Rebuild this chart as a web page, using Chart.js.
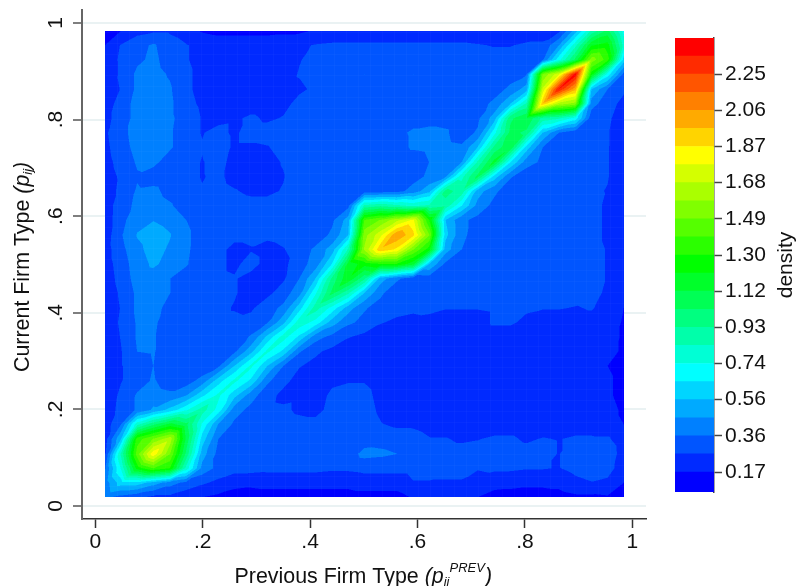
<!DOCTYPE html>
<html>
<head>
<meta charset="utf-8">
<script src="https://cdn.jsdelivr.net/npm/chart.js@4/dist/chart.umd.min.js"></script>
<style>
  html, body { margin: 0; padding: 0; background: #fff; }
  #wrap { position: relative; width: 796px; height: 586px; }
  canvas { position: absolute; left: 0; top: 0; }
</style>
</head>
<body>
<div id="wrap">
  <canvas id="main" width="796" height="586"></canvas>
  <canvas id="bar" width="796" height="586"></canvas>
</div>
<script>
const xTicks = [0, 0.2, 0.4, 0.6, 0.8, 1];
const yTicks = [0, 0.2, 0.4, 0.6, 0.8, 1];
const tickNames = { 0: '0', 0.2: '.2', 0.4: '.4', 0.6: '.6', 0.8: '.8', 1: '1' };

const gridX = [.018,.048,.078,.108,.139,.169,.199,.229,.259,.290,.320,.350,.380,.410,.441,.471,.501,.531,.561,.592,.622,.652,.682,.712,.743,.773,.803,.833,.863,.894,.924,.954,.984];
const gridY = [.984,.954,.924,.894,.863,.833,.803,.773,.743,.712,.682,.652,.622,.592,.561,.531,.501,.471,.441,.410,.380,.350,.320,.290,.259,.229,.199,.169,.139,.108,.078,.048,.018];

// density x 100, one row per gridY value
const density = [
  [15,17,23,25,25,22,16,14,14,14,14,15,15,18,19,20,20,20,20,20,20,20,20,20,20,20,20,22,24,50,85,105,70],
  [17,27,33,37,31,27,24,23,23,23,23,23,25,27,28,28,28,28,28,28,28,28,28,27,26,26,28,28,45,80,120,125,80],
  [21,28,34,38,32,27,24,23,22,22,22,23,26,29,30,30,30,30,30,30,30,30,30,30,30,30,31,35,70,105,155,135,60],
  [20,28,38,39,35,28,24,23,22,22,22,23,27,30,31,31,36,31,31,36,31,31,31,31,31,32,35,150,175,240,125,70,33],
  [21,27,38,40,37,28,24,22,22,22,22,24,25,28,30,31,31,31,31,31,31,31,31,31,32,38,50,170,235,200,55,36,28],
  [22,30,40,41,38,29,25,23,22,22,22,24,29,31,31,31,31,31,31,31,31,31,31,32,38,55,85,195,165,155,40,30,24],
  [24,30,40,42,38,31,26,24,25,28,25,27,31,31,31,31,31,31,33,33,33,33,32,34,50,100,110,90,85,70,30,28,22],
  [25,33,40,42,37,31,26,29,25,30,30,31,31,31,31,31,31,31,34,37,38,37,32,37,70,105,100,55,36,30,28,27,22],
  [24,32,39,41,37,31,27,31,25,25,26,29,31,31,31,31,31,31,33,37,38,38,37,55,95,110,60,36,30,29,28,27,21],
  [23,30,37,38,32,30,26,29,24,23,24,27,31,31,31,31,31,31,31,31,36,38,45,85,115,65,40,34,30,29,28,27,21],
  [22,28,35,32,31,29,26,28,24,23,24,26,31,31,31,31,31,31,31,32,38,44,80,105,60,37,30,29,29,29,28,27,20],
  [21,29,37,38,33,30,27,29,27,25,25,27,31,31,31,31,31,31,32,40,52,95,90,50,38,30,29,29,29,29,28,26,19],
  [21,32,38,40,37,31,30,30,30,29,29,30,31,31,32,33,85,90,85,80,85,90,65,42,33,30,29,29,29,29,29,25,18],
  [21,33,42,45,42,36,31,30,30,30,30,31,31,31,34,50,140,150,165,180,130,55,38,33,31,30,30,30,30,30,29,25,19],
  [21,35,46,50,46,38,31,29,28,28,28,29,31,30,38,55,155,175,205,190,150,58,38,32,31,31,30,30,30,30,29,25,20],
  [22,33,43,49,44,38,30,28,25,26,24,26,30,38,50,85,160,195,185,150,125,50,36,32,31,31,30,30,30,30,29,26,20],
  [22,31,41,47,42,37,30,28,25,29,24,24,32,40,65,115,125,130,130,115,55,34,31,31,31,31,30,30,30,30,29,26,20],
  [21,30,40,41,36,31,29,28,27,24,24,25,36,55,95,120,95,50,38,30,31,31,31,31,31,31,31,31,31,31,29,26,20],
  [20,28,38,40,36,31,29,28,27,24,24,31,42,72,105,85,55,38,29,30,30,30,30,30,30,30,30,30,30,30,29,25,19],
  [20,27,38,39,33,31,28,28,26,25,32,38,60,88,70,50,37,32,29,28,29,27,27,27,28,28,28,27,27,26,27,24,17],
  [20,28,37,38,30,29,28,28,28,30,35,52,80,70,50,38,33,27,25,24,23,22,22,22,28,28,24,22,22,24,24,22,16],
  [19,27,37,37,30,29,28,28,30,37,57,78,62,40,33,27,24,22,21,21,21,21,21,21,21,21,21,21,21,22,22,20,16],
  [18,26,36,37,28,27,27,28,34,52,76,62,37,28,24,21,20,20,20,20,20,20,20,20,20,20,20,20,20,20,20,19,16],
  [18,26,30,36,28,27,28,34,55,76,55,36,27,24,21,19,19,19,19,19,19,19,19,19,19,19,19,19,19,19,19,17,15],
  [18,26,32,37,31,31,40,60,76,62,38,29,23,24,25,26,26,23,20,19,19,19,19,19,19,19,19,19,19,19,19,18,15],
  [18,29,37,40,38,45,62,76,58,40,30,24,25,23,28,29,29,24,20,19,19,19,19,19,19,19,19,19,19,19,19,18,15],
  [20,30,37,47,58,72,88,70,40,33,29,28,25,24,29,30,30,25,21,20,20,20,20,20,20,20,20,20,20,20,20,19,16],
  [21,36,80,100,115,105,72,45,34,30,30,30,29,29,30,30,31,27,25,25,23,21,21,21,21,21,21,21,21,21,21,19,17],
  [22,55,135,150,165,110,60,36,30,31,31,31,31,31,31,31,31,32,31,30,27,27,25,26,28,28,25,27,26,28,28,28,20],
  [25,85,145,185,150,100,50,33,30,31,31,31,31,31,31,31,39,38,36,31,31,30,30,30,31,31,30,30,26,33,35,34,21],
  [35,75,125,140,130,80,42,33,30,30,29,29,29,29,28,28,29,29,29,29,29,28,28,27,28,28,27,27,26,29,31,31,20],
  [40,60,60,50,40,33,28,24,20,19,20,20,20,20,20,20,22,22,22,26,26,26,26,23,21,20,19,19,20,24,26,24,17],
  [38,32,28,24,24,20,17,15,13,13,13,13,13,13,13,13,13,13,13,18,18,18,18,17,13,13,13,13,13,15,15,16,15]
];

// contour levels, bottom of the colour bar to the top
const bandEdges = [.0655,.17,.2645,.359,.4535,.548,.6425,.737,.8315,.926,1.0205,1.115,1.2095,1.304,1.3985,1.493,1.5875,1.682,1.7765,1.871,1.9655,2.06,2.1545,2.249,2.3435,2.438];
const bandHues = [240,230,220,210,200,190,180,170,160,150,140,130,120,110,100,90,80,70,60,50,40,30,20,10,0];
const barTicks = [.17,.359,.548,.737,.926,1.115,1.304,1.493,1.682,1.871,2.06,2.249];
const barLabels = ['0.17','0.36','0.56','0.74','0.93','1.12','1.30','1.49','1.68','1.87','2.06','2.25'];

const FONT = '"Liberation Sans", Arial, sans-serif';
const INK = '#111';
const TEXT_SIZE = 21;
const TITLE_SIZE = 21.4;
const MESH_STEP = 0.0224;

function hslRgb(h) {
  const f = n => {
    const k = (n + h / 30) % 12;
    return Math.round(255 * (0.5 - 0.5 * Math.max(-1, Math.min(k - 3, 9 - k, 1))));
  };
  return [f(0), f(8), f(4)];
}
const bandRgb = bandHues.map(hslRgb);

function bandOf(v) {
  for (let b = bandEdges.length - 2; b > 0; b--) {
    if (v >= bandEdges[b]) return b;
  }
  return 0;
}

// linear on the two triangles of a cell, split along the diagonal
function sampleDensity(x, y) {
  let i = 0;
  while (i < gridX.length - 2 && x > gridX[i + 1]) i++;
  let r = 0;
  while (r < gridY.length - 2 && y < gridY[r + 1]) r++;
  const u = (x - gridX[i]) / (gridX[i + 1] - gridX[i]);
  const v = (y - gridY[r + 1]) / (gridY[r] - gridY[r + 1]);
  const v00 = density[r + 1][i], v10 = density[r + 1][i + 1];
  const v01 = density[r][i], v11 = density[r][i + 1];
  const z = u > v
    ? v00 + u * (v10 - v00) + v * (v11 - v10)
    : v00 + v * (v01 - v00) + u * (v11 - v01);
  return z / 100;
}

const contourPlugin = {
  id: 'contour',
  beforeDatasetsDraw(chart) {
    const sx = chart.scales.x, sy = chart.scales.y;
    const left = Math.round(sx.getPixelForValue(gridX[0]));
    const right = Math.round(sx.getPixelForValue(gridX[gridX.length - 1]));
    const top = Math.round(sy.getPixelForValue(gridY[0]));
    const bottom = Math.round(sy.getPixelForValue(gridY[gridY.length - 1]));
    const ss = 2;
    const w = (right - left) * ss, h = (bottom - top) * ss;
    const off = document.createElement('canvas');
    off.width = w;
    off.height = h;
    const octx = off.getContext('2d');
    const img = octx.createImageData(w, h);
    for (let py = 0; py < h; py++) {
      const y = sy.getValueForPixel(top + (py + 0.5) / ss);
      for (let px = 0; px < w; px++) {
        const x = sx.getValueForPixel(left + (px + 0.5) / ss);
        const c = bandRgb[bandOf(sampleDensity(x, y))];
        const k = (py * w + px) * 4;
        img.data[k] = c[0];
        img.data[k + 1] = c[1];
        img.data[k + 2] = c[2];
        img.data[k + 3] = 255;
      }
    }
    octx.putImageData(img, 0, 0);
    const ctx = chart.ctx;
    ctx.drawImage(off, left, top, right - left, bottom - top);

    // faint seams of the contour mesh
    ctx.save();
    ctx.strokeStyle = 'rgba(255,255,255,0.025)';
    ctx.lineWidth = 1;
    ctx.beginPath();
    for (let v = gridX[0] + MESH_STEP; v < gridX[gridX.length - 1]; v += MESH_STEP) {
      const px = Math.round(sx.getPixelForValue(v)) + 0.5;
      ctx.moveTo(px, top);
      ctx.lineTo(px, bottom);
      const py = Math.round(sy.getPixelForValue(v)) + 0.5;
      ctx.moveTo(left, py);
      ctx.lineTo(right, py);
    }
    ctx.stroke();
    ctx.restore();
  }
};

// runs: [text, size, italic, baseline shift]
function drawRuns(ctx, runs, x, y) {
  let pos = x;
  runs.forEach(r => {
    ctx.font = `${r[2] ? 'italic ' : ''}${r[1]}px ${FONT}`;
    ctx.fillText(r[0], pos, y + r[3]);
    pos += ctx.measureText(r[0]).width;
  });
}

const titlePlugin = {
  id: 'titles',
  afterDraw(chart) {
    const ctx = chart.ctx;
    ctx.save();
    ctx.fillStyle = INK;
    ctx.textBaseline = 'alphabetic';
    ctx.textAlign = 'left';
    drawRuns(ctx, [
      ['Previous Firm Type ', TITLE_SIZE, false, 0],
      ['(p', TITLE_SIZE, true, 0],
      ['ii', 13, true, 3],
      ['PREV', 13, true, -11],
      [')', TITLE_SIZE, true, 0]
    ], 234.5, 583);
    ctx.translate(28.5, 372);
    ctx.rotate(-Math.PI / 2);
    drawRuns(ctx, [
      ['Current Firm Type ', TITLE_SIZE, false, 0],
      ['(p', TITLE_SIZE, true, 0],
      ['ij', 13, true, 3],
      [')', TITLE_SIZE, true, 0]
    ], 0, 0);
    ctx.restore();
  }
};

new Chart(document.getElementById('main'), {
  type: 'scatter',
  data: {
    datasets: [{
      label: 'density',
      data: gridY.flatMap((y, r) => gridX.map((x, i) => ({ x, y, v: density[r][i] / 100 }))),
      pointRadius: 0,
      pointHoverRadius: 0
    }]
  },
  options: {
    responsive: false,
    animation: false,
    events: [],
    layout: { padding: { left: 0, right: 150, top: 10, bottom: 0 } },
    plugins: { legend: { display: false }, tooltip: { enabled: false } },
    scales: {
      x: {
        type: 'linear',
        min: -0.0248,
        max: 1.0255,
        afterFit: s => { s.height = 67; s.paddingLeft = 0; s.paddingRight = 0; },
        afterBuildTicks: s => { s.ticks = xTicks.map(value => ({ value })); },
        grid: { drawOnChartArea: false, tickLength: 9, tickColor: '#333', tickWidth: 1.5 },
        border: { color: '#333', width: 1.5 },
        ticks: {
          color: INK,
          padding: 2,
          maxRotation: 0,
          font: { family: FONT, size: TEXT_SIZE },
          callback: v => tickNames[v]
        }
      },
      y: {
        type: 'linear',
        min: -0.0269,
        max: 1.0269,
        afterFit: s => { s.width = 82; s.paddingTop = 0; s.paddingBottom = 0; },
        afterBuildTicks: s => { s.ticks = yTicks.map(value => ({ value })); },
        grid: { color: '#eaf2f3', lineWidth: 2, tickLength: 9, tickColor: '#555', tickWidth: 1.5 },
        border: { color: '#666', width: 2 },
        ticks: {
          color: INK,
          padding: 8,
          minRotation: 90,
          maxRotation: 90,
          crossAlign: 'center',
          font: { family: FONT, size: TEXT_SIZE },
          callback: v => tickNames[v]
        }
      }
    }
  },
  plugins: [contourPlugin, titlePlugin]
});

const densityLabel = {
  id: 'densityLabel',
  afterDraw(chart) {
    const ctx = chart.ctx;
    ctx.save();
    ctx.fillStyle = INK;
    ctx.font = `${TEXT_SIZE}px ${FONT}`;
    ctx.textAlign = 'center';
    ctx.textBaseline = 'alphabetic';
    ctx.translate(792, 265);
    ctx.rotate(-Math.PI / 2);
    ctx.fillText('density', 0, 0);
    ctx.restore();
  }
};

new Chart(document.getElementById('bar'), {
  type: 'bar',
  data: {
    labels: ['density'],
    datasets: bandHues.map((h, b) => ({
      data: [[bandEdges[b], bandEdges[b + 1]]],
      backgroundColor: `rgb(${bandRgb[b].join(',')})`,
      borderWidth: 0,
      barPercentage: 1,
      categoryPercentage: 1,
      grouped: false
    }))
  },
  options: {
    responsive: false,
    animation: false,
    events: [],
    layout: { padding: { left: 675, right: 0, top: 38, bottom: 94 } },
    plugins: { legend: { display: false }, tooltip: { enabled: false } },
    scales: {
      x: { display: false },
      y: {
        position: 'right',
        min: bandEdges[0],
        max: bandEdges[bandEdges.length - 1],
        afterFit: s => { s.width = 82; s.paddingTop = 0; s.paddingBottom = 0; },
        afterBuildTicks: s => { s.ticks = barTicks.map(value => ({ value })); },
        grid: { drawOnChartArea: false, tickLength: 8, tickColor: '#444', tickWidth: 1.5 },
        border: { color: '#444', width: 1.5 },
        ticks: {
          color: INK,
          padding: 3,
          font: { family: FONT, size: TEXT_SIZE },
          callback: (v, idx) => barLabels[idx]
        }
      }
    }
  },
  plugins: [densityLabel]
});
</script>
</body>
</html>
